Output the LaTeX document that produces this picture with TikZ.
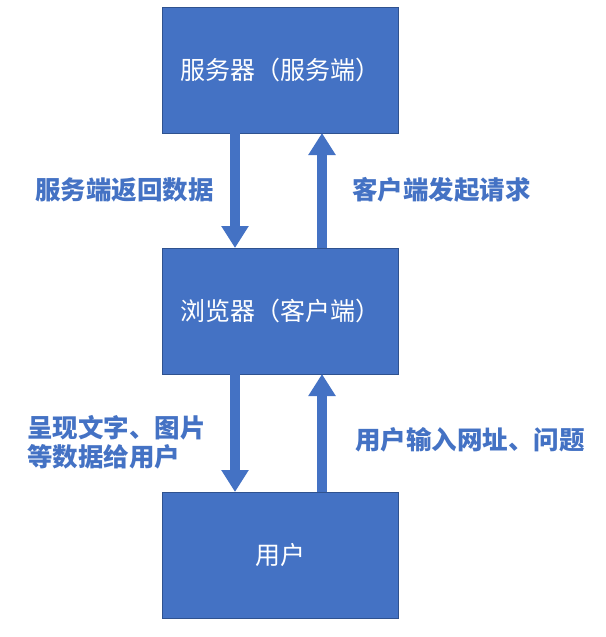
\documentclass[tikz,border=0pt]{standalone}
\usepackage{fontspec}
\setmainfont{Noto Sans CJK SC}
\usetikzlibrary{arrows.meta}
\definecolor{boxc}{HTML}{4472C4}
\definecolor{edgec}{HTML}{2F528F}
\begin{document}
\begin{tikzpicture}[x=1pt,y=-1pt,
  box/.style={draw=edgec,line width=1pt,fill=boxc,minimum width=236pt,minimum height=126pt,text=white,font=\fontsize{25}{28}\selectfont,inner sep=0},
  lab/.style={text=boxc,font=\bfseries\fontsize{25.5}{29}\selectfont,align=left,inner sep=0},
  blk/.style={draw=boxc,line width=10pt,-{Triangle[length=22pt 0,width=26pt 0]}}]
\useasboundingbox (0,0) rectangle (605,637);
\node[box] (s) at (280,70) {服务器（服务端）};
\node[box] (b) at (280,311) {浏览器（客户端）};
\node[box] (u) at (280,555) {用户};
\coordinate (s1) at (235,133); \coordinate (b1) at (235,248);
\coordinate (s2) at (322,133); \coordinate (b2) at (322,248);
\coordinate (b3) at (235,374); \coordinate (u3) at (235,492);
\coordinate (b4) at (322,374); \coordinate (u4) at (322,492);
\draw[blk] (s1) -- (b1);
\draw[blk] (b2) -- (s2);
\draw[blk] (b3) -- (u3);
\draw[blk] (u4) -- (b4);
\node[lab,anchor=west] (l1) at (35,190) {服务端返回数据};
\node[lab,anchor=west] (l2) at (352,190) {客户端发起请求};
\node[lab,anchor=west] (l3) at (27,442) {呈现文字、图片\\等数据给用户};
\node[lab,anchor=west] (l4) at (355,440) {用户输入网址、问题};
\end{tikzpicture}
\end{document}
